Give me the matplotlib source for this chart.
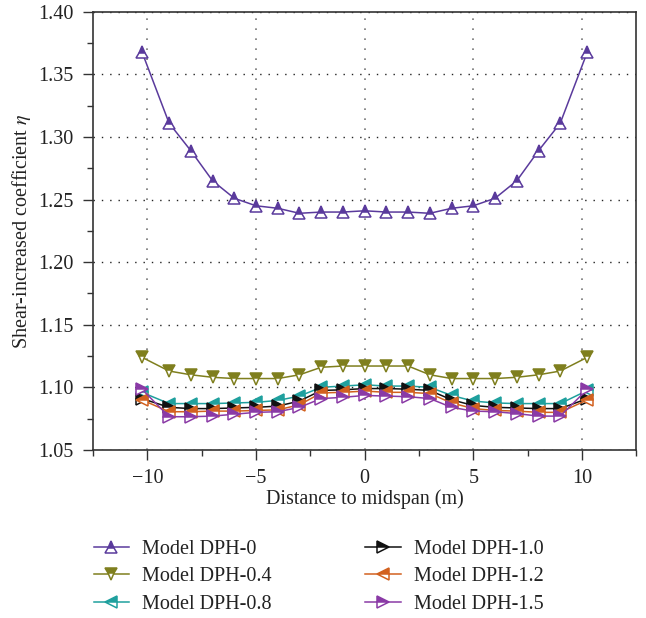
import matplotlib.pyplot as plt
from matplotlib.ticker import MultipleLocator

# distance to midspan (m)
x = [-10.25, -9, -8, -7, -6, -5, -4, -3, -2, -1, 0, 1, 2, 3, 4, 5, 6, 7, 8, 9, 10.25]

dph_0 = [1.368, 1.311, 1.289, 1.265, 1.251, 1.245, 1.243, 1.239, 1.240, 1.240, 1.241,
         1.240, 1.240, 1.239, 1.243, 1.245, 1.251, 1.265, 1.289, 1.311, 1.368]
dph_04 = [1.124, 1.113, 1.110, 1.108, 1.107, 1.107, 1.107, 1.110, 1.116, 1.117, 1.117,
          1.117, 1.117, 1.110, 1.107, 1.107, 1.107, 1.108, 1.110, 1.113, 1.124]
dph_08 = [1.096, 1.087, 1.087, 1.087, 1.0875, 1.088, 1.0895, 1.093, 1.100, 1.101, 1.102,
          1.101, 1.101, 1.100, 1.0935, 1.089, 1.0875, 1.087, 1.087, 1.087, 1.0975]
dph_10 = [1.091, 1.084, 1.083, 1.083, 1.0835, 1.084, 1.085, 1.089, 1.0975, 1.098, 1.099,
          1.099, 1.0985, 1.0975, 1.090, 1.0855, 1.084, 1.0835, 1.083, 1.083, 1.091]
dph_12 = [1.090, 1.0805, 1.0805, 1.081, 1.081, 1.0815, 1.082, 1.086, 1.0955, 1.096, 1.097,
          1.096, 1.096, 1.095, 1.0875, 1.083, 1.0815, 1.081, 1.080, 1.080, 1.090]
dph_15 = [1.0985, 1.0765, 1.0765, 1.077, 1.0785, 1.080, 1.0805, 1.084, 1.091, 1.092, 1.0935,
          1.093, 1.0925, 1.091, 1.084, 1.081, 1.0805, 1.079, 1.077, 1.077, 1.0985]

labels = ["Model DPH-0", "Model DPH-0.4", "Model DPH-0.8",
          "Model DPH-1.0", "Model DPH-1.2", "Model DPH-1.5"]

plt.rcParams["font.family"] = ["Liberation Serif", "DejaVu Serif"]
plt.rcParams["font.size"] = 14.5
plt.rcParams["mathtext.fontset"] = "stix"

fig = plt.figure(figsize=(6.46, 6.18), dpi=100)
ax = fig.add_axes([0.144, 0.272, 0.841, 0.709])

styles = [
    (dph_0, "#5a3a9c", "^"),
    (dph_04, "#7f7f1e", "v"),
    (dph_08, "#1fa09e", "<"),
    (dph_10, "#111111", ">"),
    (dph_12, "#d2611f", "<"),
    (dph_15, "#8a3aa6", ">"),
]
handles = []
for (y, c, m), lab in zip(styles, labels):
    h, = ax.plot(x, y, color=c, lw=1.1, marker=m, markersize=8, fillstyle="top",
                 markerfacecolor=c, markerfacecoloralt="white", markeredgecolor=c,
                 markeredgewidth=1.1, label=lab)
    handles.append(h)

ax.set_xlim(-12.5, 12.5)
ax.set_ylim(1.05, 1.40)
ax.xaxis.set_major_locator(MultipleLocator(5))
ax.xaxis.set_minor_locator(MultipleLocator(2.5))
ax.yaxis.set_major_locator(MultipleLocator(0.05))
ax.yaxis.set_minor_locator(MultipleLocator(0.025))
ax.xaxis.set_major_formatter(plt.FuncFormatter(lambda v, p: f"{v:.0f}".replace("-", "\u2212")))
ax.yaxis.set_major_formatter(plt.FuncFormatter(lambda v, p: f"{v:.2f}"))

ax.tick_params(which="major", direction="out", length=7, width=1, colors="#333333",
               labelsize=14.5, labelcolor="#222222", pad=7)
ax.tick_params(which="minor", direction="out", length=4, width=1, colors="#333333")
ax.tick_params(which="both", top=False, right=False)

ax.grid(True, axis="y", which="major", color="#222222", linestyle=(0, (1, 5)), lw=1)
ax.grid(True, axis="x", which="major", color="#777777", linestyle=(0, (1, 5)), lw=1.2)
for s in ax.spines.values():
    s.set_color("#333333")
    s.set_linewidth(1.2)

ax.set_xlabel("Distance to midspan (m)", fontsize=14.5, color="#222222", labelpad=1)
ax.set_ylabel("Shear-increased coefficient $\\eta$", fontsize=14.5, color="#222222", labelpad=4)

fig.legend(handles, labels, ncol=2, frameon=False,
           loc="upper left", bbox_to_anchor=(0.145, 0.127), fontsize=14.5,
           handlelength=1.75, handletextpad=0.65, columnspacing=4.65, labelspacing=0.42,
           labelcolor="#222222", borderaxespad=0, borderpad=0)

fig.savefig("out.png", dpi=100)
